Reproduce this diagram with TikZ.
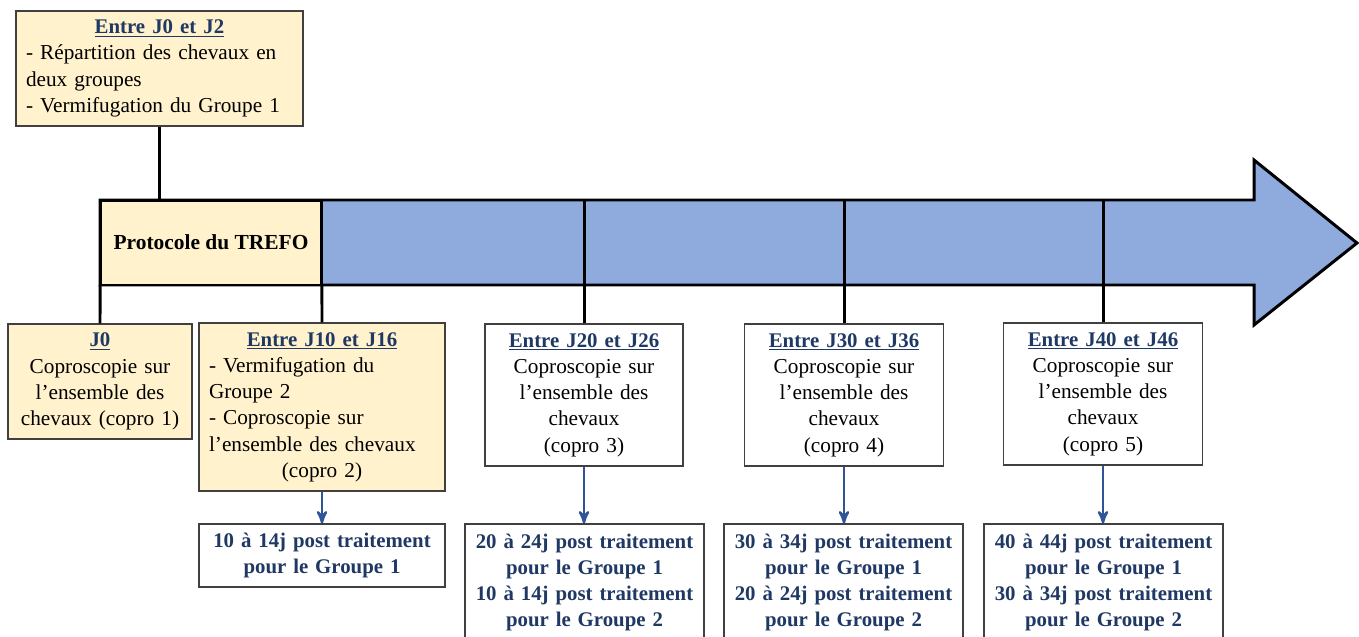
\documentclass[tikz,border=0pt]{standalone}
\usepackage{fontspec}
\setmainfont{Liberation Serif}
\usetikzlibrary{arrows,shapes}
\setlength{\parindent}{0pt}
\definecolor{creme}{HTML}{FFF2CC}
\definecolor{bleuaxe}{HTML}{8FAADC}
\definecolor{bleufonce}{HTML}{1F3864}
\definecolor{bleulien}{HTML}{2F5597}
\definecolor{bordgris}{HTML}{404040}
\newcommand{\taille}{\fontsize{12.1}{14.95}\selectfont}
\newcommand{\tailleb}{\fontsize{11.85}{14.95}\selectfont\bfseries}
\newcommand{\titre}[1]{{\color{bleufonce}\tailleb\underline{#1}}\par}
\tikzset{
	>=stealth',
	etape/.style={
		rectangle,
		draw=bordgris, line width=0.7pt,
		inner xsep=0.2cm, inner ysep=0pt,
		font=\taille},
	etapecreme/.style={etape, fill=creme},
	etapeblanche/.style={etape, fill=white, align=center},
	resultat/.style={
		etape, fill=white, inner xsep=0.1cm,
		text=bleufonce, align=center,
		font=\tailleb},
	lien/.style={draw, line width=1.7pt},
	suite/.style={->, draw=bleulien, line width=1.4pt},
}
\begin{document}
\begin{tikzpicture}[x=0.02cm, y=-0.02cm]
	\useasboundingbox (0,0) rectangle (1359,636);
	% axe du temps
	\draw[lien, fill=bleuaxe] (100,200) -- (1254,200) -- (1254,160) -- (1357,243)
		-- (1254,325) -- (1254,285) -- (100,285) -- cycle;
	\node[lien, fill=creme, outer sep=0pt, minimum width=4.44cm, minimum height=1.7cm,
		font=\fontsize{12.2}{14.95}\selectfont\bfseries] (proto) at (211,242.5) {Protocole du TREFO};

	\node[etapecreme, align=left, minimum width=5.74cm, minimum height=2.3cm, text width=5.34cm]
		(j2) at (159.5,68.5)
		{{\centering\titre{Entre J0 et J2}}- Répartition des chevaux en\\deux groupes\\- Vermifugation du Groupe 1};
	\node[etapecreme, align=center, minimum width=3.68cm, minimum height=2.3cm, text width=3.28cm]
		(j0) at (100,381.5)
		{\titre{J0}Coproscopie sur\\l’ensemble des\\chevaux (copro 1)};
	\node[etapecreme, align=left, minimum width=4.92cm, minimum height=3.36cm, text width=4.52cm]
		(j10) at (322,407)
		{{\centering\titre{Entre J10 et J16}}- Vermifugation du\\Groupe 2\\- Coproscopie sur\\l’ensemble des chevaux\par{\centering(copro 2)\par}};
	\node[etapeblanche, minimum width=3.96cm, minimum height=2.84cm, text width=3.56cm]
		(j20) at (584,395)
		{\titre{Entre J20 et J26}Coproscopie sur\\l’ensemble des\\chevaux\\(copro 3)};
	\node[etapeblanche, minimum width=3.98cm, minimum height=2.84cm, text width=3.58cm]
		(j30) at (844,395)
		{\titre{Entre J30 et J36}Coproscopie sur\\l’ensemble des\\chevaux\\(copro 4)};
	\node[etapeblanche, minimum width=3.98cm, minimum height=2.84cm, text width=3.58cm]
		(j40) at (1103,394)
		{\titre{Entre J40 et J46}Coproscopie sur\\l’ensemble des\\chevaux\\(copro 5)};

	\node[resultat, minimum width=4.92cm, minimum height=1.26cm, text width=4.72cm]
		(r1) at (322,555.5) {10 à 14j post traitement\\pour le Groupe 1};
	\node[resultat, minimum width=4.78cm, minimum height=2.34cm, text width=4.58cm]
		(r2) at (584.5,582.5) {20 à 24j post traitement\\pour le Groupe 1\\10 à 14j post traitement\\pour le Groupe 2};
	\node[resultat, minimum width=4.78cm, minimum height=2.34cm, text width=4.58cm]
		(r3) at (843.5,582.5) {30 à 34j post traitement\\pour le Groupe 1\\20 à 24j post traitement\\pour le Groupe 2};
	\node[resultat, minimum width=4.78cm, minimum height=2.34cm, text width=4.58cm]
		(r4) at (1103.5,582.5) {40 à 44j post traitement\\pour le Groupe 1\\30 à 34j post traitement\\pour le Groupe 2};

	% liens vers l'axe
	\draw[lien] (j2.south) -- (j2.south |- proto.north);
	\draw[lien] (proto.south west) -- (j0.north);
	\draw[lien] (proto.south east) -- (j10.north);
	\foreach \j in {j20, j30, j40}
		\draw[lien] (\j.north) -- (\j.north |- proto.north);

	\draw[suite] (j10.south) -- (r1.north);
	\foreach \j/\r in {j20/r2, j30/r3, j40/r4}
		\draw[suite] (\j.south) -- (\j.south |- \r.north);
\end{tikzpicture}
\end{document}
